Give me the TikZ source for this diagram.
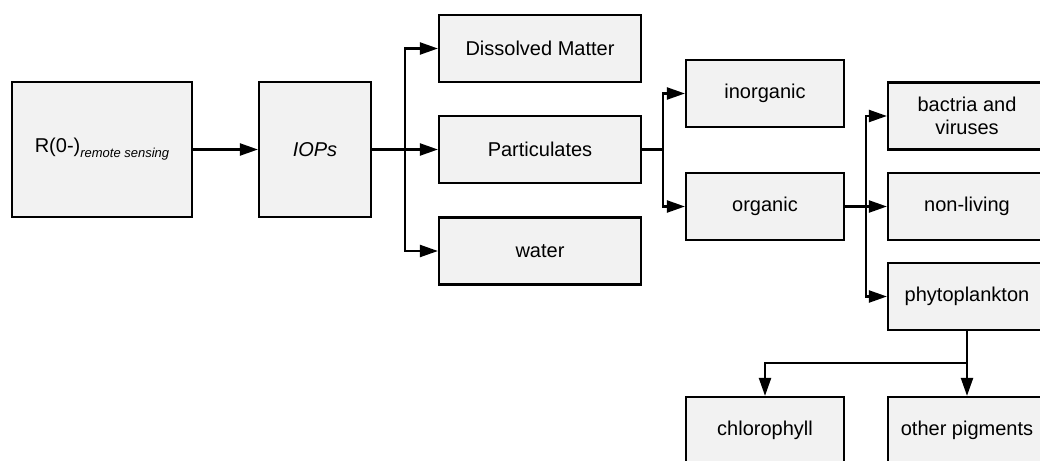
\documentclass[tikz,border=0pt]{standalone}
\usepackage{fontspec}
\setmainfont{Liberation Sans}
\usetikzlibrary{arrows.meta}
\definecolor{boxfill}{HTML}{F2F2F2}
\begin{document}
\begin{tikzpicture}[x=1pt,y=-1pt,
  box/.style={draw=black, fill=boxfill, line width=2.2pt, inner sep=0pt,
    align=center, minimum width=158pt, minimum height=67pt,
    font=\fontsize{20}{23}\selectfont},
  link/.style={line width=2.2pt},
  conn/.style={link, -{Triangle[length=18pt,width=12pt]}}]
\useasboundingbox (0,0) rectangle (1040,460);
\clip (0,0) rectangle (1040,460);

% first stage
\node[box, minimum width=180pt, minimum height=135pt] (rrs) at (102,149.5)
  {R(0-)\raisebox{-5pt}{\fontsize{13}{15}\selectfont\itshape remote sensing}};
\node[box, minimum width=112pt, minimum height=135pt] (iops) at (315,149.5) {\itshape IOPs};

% constituents
\node[box, minimum width=202pt] (dis)  at (540,48.5)  {Dissolved Matter};
\node[box, minimum width=202pt] (part) at (540,149.5) {Particulates};
\node[box, minimum width=202pt] (wat)  at (540,251)   {water};

% particulate classes
\node[box] (inorg) at (765,93.5)  {inorganic};
\node[box] (org)   at (765,206.5) {organic};

% organic classes
\node[box] (bact)  at (967,116)   {bactria and\\viruses};
\node[box] (nonl)  at (967,206.5) {non-living};
\node[box] (phyto) at (967,296.5) {phytoplankton};

% pigments
\node[box] (chl)   at (765,430.5) {chlorophyll};
\node[box] (oth)   at (967,430.5) {other pigments};

% branch points
\coordinate (b1) at (405,149.5);
\coordinate (b2) at (663,149.5);
\coordinate (b3) at (866,206.5);
\coordinate (b4) at (967,363);

\draw[conn] (rrs) -- (iops);

\draw[link] (iops.east) -- (b1);
\draw[conn] (b1) |- (dis.west);
\draw[conn] (b1) -- (part.west);
\draw[conn] (b1) |- (wat.west);

\draw[link] (part.east) -- (b2);
\draw[conn] (b2) |- (inorg.west);
\draw[conn] (b2) |- (org.west);

\draw[link] (org.east) -- (b3);
\draw[conn] (b3) |- (bact.west);
\draw[conn] (b3) -- (nonl.west);
\draw[conn] (b3) |- (phyto.west);

\draw[link] (phyto.south) -- (b4);
\draw[conn] (b4) -| (chl.north);
\draw[conn] (b4) -- (oth.north);
\end{tikzpicture}
\end{document}
